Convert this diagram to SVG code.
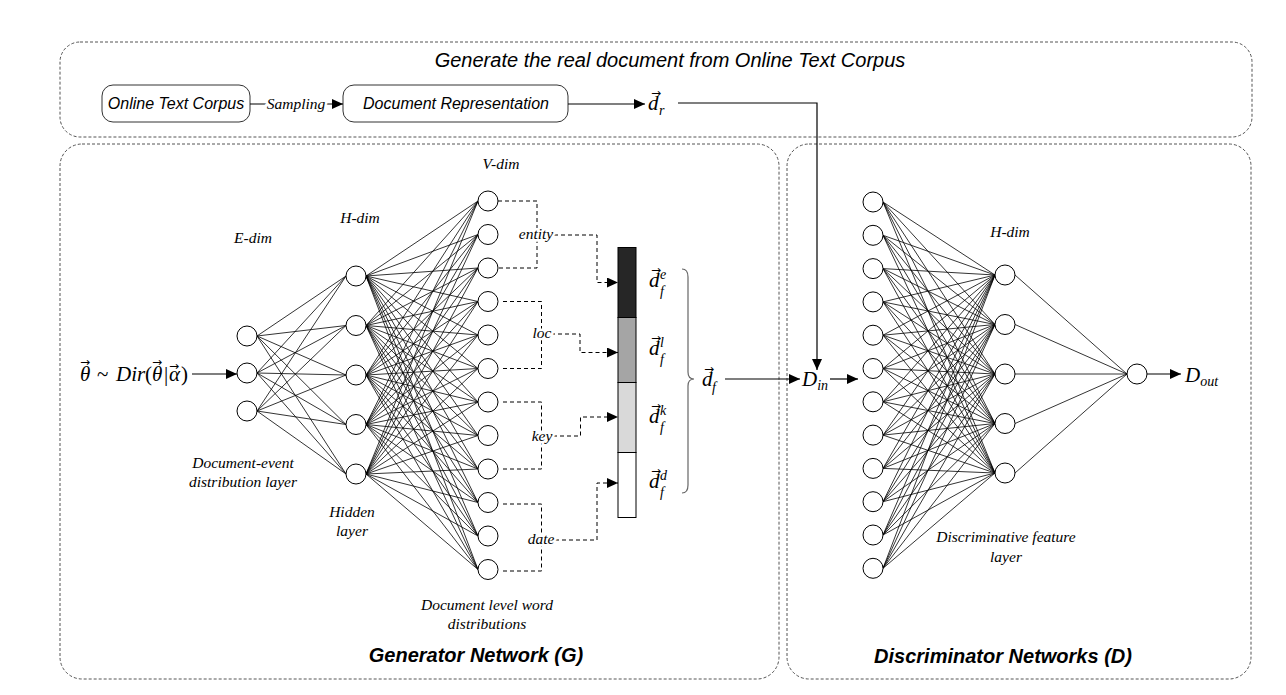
<svg xmlns="http://www.w3.org/2000/svg" width="1286" height="695" viewBox="0 0 1286 695">
<defs>
<marker id="ah" markerUnits="userSpaceOnUse" markerWidth="11" markerHeight="10" refX="11" refY="5" orient="auto"><path d="M0 0L11 5L0 10z" fill="#000"/></marker>
<style>
.panel{fill:none;stroke:#555;stroke-width:1;stroke-dasharray:3 2}
.box{fill:#fff;stroke:#333;stroke-width:1}
.n circle{fill:#fff;stroke:#000;stroke-width:1}
.w{fill:none;stroke:#000;stroke-width:0.8}
.dash{fill:none;stroke:#000;stroke-width:1;stroke-dasharray:4 3}
.arr{fill:none;stroke:#000;stroke-width:1.2}
.sans{font-family:"Liberation Sans",Arial,sans-serif;font-style:italic;fill:#000}
.ser{font-family:"Liberation Serif","Times New Roman",serif;font-style:italic;font-size:15.5px;fill:#000}
.math{font-family:"Liberation Serif","DejaVu Serif",serif;font-style:italic;font-size:21px;fill:#000}
.up{font-style:normal}
.vec{font-family:"DejaVu Sans",sans-serif;font-style:normal;font-size:12px}
.sub{font-size:14px}
.halo{paint-order:stroke;stroke:#fff;stroke-width:5px}
.title{font-family:"Liberation Sans",Arial,sans-serif;font-style:italic;font-weight:bold;font-size:20px;fill:#000}
</style>
</defs>

<g id="panels">
<rect class="panel" x="60" y="42" width="1192" height="95" rx="20"/>
<rect class="panel" x="60" y="144" width="719" height="535" rx="22"/>
<rect class="panel" x="787" y="144" width="464" height="535" rx="22"/>
</g>

<g id="top-title"><text class="sans" x="670" y="67" font-size="20" text-anchor="middle">Generate the real document from Online Text Corpus</text></g>
<g id="corpus"><rect class="box" x="102" y="85" width="148" height="37" rx="11"/><text class="sans" x="176" y="109" font-size="16" text-anchor="middle">Online Text Corpus</text></g>
<g id="docrep"><rect class="box" x="343" y="85" width="225" height="37" rx="11"/><text class="sans" x="456" y="109" font-size="16" text-anchor="middle">Document Representation</text></g>
<g id="dr"><text class="math"><tspan x="648" y="110">d</tspan><tspan class="sub" x="659" y="115">r</tspan><tspan class="vec" x="651" y="97">→</tspan></text></g>

<g id="connectors">
<path class="w" d="M257 336L346 276M257 336L346 325.5M257 336L346 375M257 336L346 424.5M257 336L346 474M257 373L346 276M257 373L346 325.5M257 373L346 375M257 373L346 424.5M257 373L346 474M257 411L346 276M257 411L346 325.5M257 411L346 375M257 411L346 424.5M257 411L346 474"/>
<path class="w" d="M366 276L478 201M366 276L478 234.5M366 276L478 268M366 276L478 301.5M366 276L478 335M366 276L478 368.5M366 276L478 402M366 276L478 435.5M366 276L478 469M366 276L478 502.5M366 276L478 536M366 276L478 569.5"/>
<path class="w" d="M366 325.5L478 201M366 325.5L478 234.5M366 325.5L478 268M366 325.5L478 301.5M366 325.5L478 335M366 325.5L478 368.5M366 325.5L478 402M366 325.5L478 435.5M366 325.5L478 469M366 325.5L478 502.5M366 325.5L478 536M366 325.5L478 569.5"/>
<path class="w" d="M366 375L478 201M366 375L478 234.5M366 375L478 268M366 375L478 301.5M366 375L478 335M366 375L478 368.5M366 375L478 402M366 375L478 435.5M366 375L478 469M366 375L478 502.5M366 375L478 536M366 375L478 569.5"/>
<path class="w" d="M366 424.5L478 201M366 424.5L478 234.5M366 424.5L478 268M366 424.5L478 301.5M366 424.5L478 335M366 424.5L478 368.5M366 424.5L478 402M366 424.5L478 435.5M366 424.5L478 469M366 424.5L478 502.5M366 424.5L478 536M366 424.5L478 569.5"/>
<path class="w" d="M366 474L478 201M366 474L478 234.5M366 474L478 268M366 474L478 301.5M366 474L478 335M366 474L478 368.5M366 474L478 402M366 474L478 435.5M366 474L478 469M366 474L478 502.5M366 474L478 536M366 474L478 569.5"/>
<path class="w" d="M995 275L883 202M995 275L883 235.3M995 275L883 268.6M995 275L883 301.9M995 275L883 335.2M995 275L883 368.5M995 275L883 401.8M995 275L883 435.1M995 275L883 468.4M995 275L883 501.7M995 275L883 535M995 275L883 568.3"/>
<path class="w" d="M995 324.5L883 202M995 324.5L883 235.3M995 324.5L883 268.6M995 324.5L883 301.9M995 324.5L883 335.2M995 324.5L883 368.5M995 324.5L883 401.8M995 324.5L883 435.1M995 324.5L883 468.4M995 324.5L883 501.7M995 324.5L883 535M995 324.5L883 568.3"/>
<path class="w" d="M995 374L883 202M995 374L883 235.3M995 374L883 268.6M995 374L883 301.9M995 374L883 335.2M995 374L883 368.5M995 374L883 401.8M995 374L883 435.1M995 374L883 468.4M995 374L883 501.7M995 374L883 535M995 374L883 568.3"/>
<path class="w" d="M995 423.5L883 202M995 423.5L883 235.3M995 423.5L883 268.6M995 423.5L883 301.9M995 423.5L883 335.2M995 423.5L883 368.5M995 423.5L883 401.8M995 423.5L883 435.1M995 423.5L883 468.4M995 423.5L883 501.7M995 423.5L883 535M995 423.5L883 568.3"/>
<path class="w" d="M995 473L883 202M995 473L883 235.3M995 473L883 268.6M995 473L883 301.9M995 473L883 335.2M995 473L883 368.5M995 473L883 401.8M995 473L883 435.1M995 473L883 468.4M995 473L883 501.7M995 473L883 535M995 473L883 568.3"/>
<path class="w" d="M1015 275L1127 374M1015 324.5L1127 374M1015 374L1127 374M1015 423.5L1127 374M1015 473L1127 374"/>
<path class="dash" d="M498 201H537V268H498"/>
<path class="dash" d="M503 301.5H541.5V368.5H503"/>
<path class="dash" d="M503 402H541.5V469H503"/>
<path class="dash" d="M503 504H541.5V571H503"/>
<path class="dash" d="M554 235H597V282.5H618" marker-end="url(#ah)"/>
<path class="dash" d="M551 334H580V352.5H618" marker-end="url(#ah)"/>
<path class="dash" d="M553 436H580.5V417H618" marker-end="url(#ah)"/>
<path class="dash" d="M555 540H597V483H618" marker-end="url(#ah)"/>
<path class="arr" d="M250 104H343" marker-end="url(#ah)"/>
<path class="arr" d="M568 104H645" marker-end="url(#ah)"/>
<path class="arr" d="M678 103H817V370" marker-end="url(#ah)"/>
<path class="arr" d="M192 374H237" marker-end="url(#ah)"/>
<path class="arr" d="M725 379H800" marker-end="url(#ah)"/>
<path class="arr" d="M830 379H858" marker-end="url(#ah)"/>
<path class="arr" d="M1147 374H1181" marker-end="url(#ah)"/>
<path d="M682 269Q688 269 688 277V372Q688 379 694 379Q688 379 688 386V485Q688 493 682 493" fill="none" stroke="#666" stroke-width="1.2"/>
</g>

<g id="sampling"><text class="ser halo" x="296" y="109" font-size="15" text-anchor="middle">Sampling</text></g>

<g id="gen-E" class="n">
<g id="gE1"><circle cx="247" cy="336" r="10"/></g>
<g id="gE2"><circle cx="247" cy="373" r="10"/></g>
<g id="gE3"><circle cx="247" cy="411" r="10"/></g>
</g>
<g id="gen-H" class="n">
<g id="gH1"><circle cx="356" cy="276" r="10"/></g>
<g id="gH2"><circle cx="356" cy="325.5" r="10"/></g>
<g id="gH3"><circle cx="356" cy="375" r="10"/></g>
<g id="gH4"><circle cx="356" cy="424.5" r="10"/></g>
<g id="gH5"><circle cx="356" cy="474" r="10"/></g>
</g>
<g id="gen-V" class="n">
<g id="gV1"><circle cx="488" cy="201" r="10"/></g>
<g id="gV2"><circle cx="488" cy="234.5" r="10"/></g>
<g id="gV3"><circle cx="488" cy="268" r="10"/></g>
<g id="gV4"><circle cx="488" cy="301.5" r="10"/></g>
<g id="gV5"><circle cx="488" cy="335" r="10"/></g>
<g id="gV6"><circle cx="488" cy="368.5" r="10"/></g>
<g id="gV7"><circle cx="488" cy="402" r="10"/></g>
<g id="gV8"><circle cx="488" cy="435.5" r="10"/></g>
<g id="gV9"><circle cx="488" cy="469" r="10"/></g>
<g id="gV10"><circle cx="488" cy="502.5" r="10"/></g>
<g id="gV11"><circle cx="488" cy="536" r="10"/></g>
<g id="gV12"><circle cx="488" cy="569.5" r="10"/></g>
</g>
<g id="dis-I" class="n">
<g id="dI1"><circle cx="873" cy="202" r="10"/></g>
<g id="dI2"><circle cx="873" cy="235.3" r="10"/></g>
<g id="dI3"><circle cx="873" cy="268.6" r="10"/></g>
<g id="dI4"><circle cx="873" cy="301.9" r="10"/></g>
<g id="dI5"><circle cx="873" cy="335.2" r="10"/></g>
<g id="dI6"><circle cx="873" cy="368.5" r="10"/></g>
<g id="dI7"><circle cx="873" cy="401.8" r="10"/></g>
<g id="dI8"><circle cx="873" cy="435.1" r="10"/></g>
<g id="dI9"><circle cx="873" cy="468.4" r="10"/></g>
<g id="dI10"><circle cx="873" cy="501.7" r="10"/></g>
<g id="dI11"><circle cx="873" cy="535" r="10"/></g>
<g id="dI12"><circle cx="873" cy="568.3" r="10"/></g>
</g>
<g id="dis-H" class="n">
<g id="dH1"><circle cx="1005" cy="275" r="10"/></g>
<g id="dH2"><circle cx="1005" cy="324.5" r="10"/></g>
<g id="dH3"><circle cx="1005" cy="374" r="10"/></g>
<g id="dH4"><circle cx="1005" cy="423.5" r="10"/></g>
<g id="dH5"><circle cx="1005" cy="473" r="10"/></g>
</g>
<g id="dis-out" class="n"><circle cx="1137" cy="374" r="10"/></g>

<g id="bar">
<rect x="618" y="247.5" width="18" height="70" fill="#262626" stroke="#000"/>
<rect x="618" y="317.5" width="18" height="65" fill="#a5a5a5" stroke="#000"/>
<rect x="618" y="382.5" width="18" height="70" fill="#d9d9d9" stroke="#000"/>
<rect x="618" y="452.5" width="18" height="65" fill="#fff" stroke="#000"/>
</g>

<g id="labels">
<text class="ser halo" x="536" y="239" text-anchor="middle">entity</text>
<text class="ser halo" x="542" y="338" text-anchor="middle">loc</text>
<text class="ser halo" x="542" y="441" text-anchor="middle">key</text>
<text class="ser halo" x="541" y="544" text-anchor="middle">date</text>
<text class="ser" x="253" y="243" text-anchor="middle">E-dim</text>
<text class="ser" x="360" y="223" text-anchor="middle">H-dim</text>
<text class="ser" x="501" y="169" text-anchor="middle">V-dim</text>
<text class="ser" x="1010" y="237" text-anchor="middle">H-dim</text>
<text class="ser" text-anchor="middle"><tspan x="243" y="468">Document-event</tspan><tspan x="243" y="487">distribution layer</tspan></text>
<text class="ser" text-anchor="middle"><tspan x="352" y="517">Hidden</tspan><tspan x="352" y="536">layer</tspan></text>
<text class="ser" text-anchor="middle"><tspan x="487" y="610">Document level word</tspan><tspan x="487" y="629">distributions</tspan></text>
<text class="ser" text-anchor="middle"><tspan x="1006" y="542">Discriminative feature</tspan><tspan x="1006" y="562">layer</tspan></text>
<text class="title" x="476" y="662" text-anchor="middle">Generator Network (G)</text>
<text class="title" x="1003" y="663" text-anchor="middle">Discriminator Networks (D)</text>
</g>

<g id="math">
<text class="math"><tspan x="80" y="381">θ</tspan><tspan class="up" x="97" y="381">~</tspan><tspan x="116" y="381">Dir</tspan><tspan class="up" x="145" y="381">(</tspan><tspan x="152" y="381">θ</tspan><tspan class="up" x="164" y="381">|</tspan><tspan x="169" y="381">α</tspan><tspan class="up" x="181" y="381">)</tspan><tspan class="vec" x="80" y="366">→</tspan><tspan class="vec" x="152" y="366">→</tspan><tspan class="vec" x="169" y="370">→</tspan></text>
<text class="math"><tspan x="649" y="287">d</tspan><tspan class="sub" x="660" y="279">e</tspan><tspan class="sub" x="660" y="296">f</tspan><tspan class="vec" x="651" y="274">→</tspan></text>
<text class="math"><tspan x="649" y="355">d</tspan><tspan class="sub" x="660" y="347">l</tspan><tspan class="sub" x="660" y="364">f</tspan><tspan class="vec" x="651" y="342">→</tspan></text>
<text class="math"><tspan x="649" y="423">d</tspan><tspan class="sub" x="660" y="415">k</tspan><tspan class="sub" x="660" y="432">f</tspan><tspan class="vec" x="651" y="410">→</tspan></text>
<text class="math"><tspan x="649" y="488">d</tspan><tspan class="sub" x="660" y="480">d</tspan><tspan class="sub" x="660" y="497">f</tspan><tspan class="vec" x="651" y="475">→</tspan></text>
<text class="math"><tspan x="702" y="386">d</tspan><tspan class="sub" x="712" y="392">f</tspan><tspan class="vec" x="704" y="373">→</tspan></text>
<text class="math" x="802" y="386">D<tspan class="sub" dy="4">in</tspan></text>
<text class="math" x="1185" y="382">D<tspan class="sub" dy="4">out</tspan></text>
</g>
</svg>
